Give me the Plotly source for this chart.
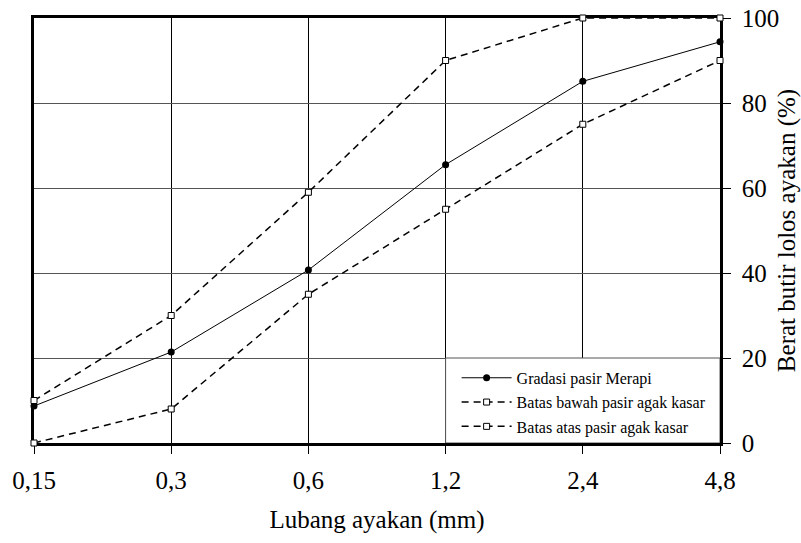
import plotly.graph_objects as go

sieve = ["0,15", "0,3", "0,6", "1,2", "2,4", "4,8"]
gradasi = [8.7, 21.4, 40.7, 65.5, 85.1, 94.4]
batas_bawah = [0, 8, 35, 55, 75, 90]
batas_atas = [10, 30, 59, 90, 100, 100]
y_ticks = [0, 20, 40, 60, 80, 100]

FONT = "'Liberation Serif', 'Times New Roman', Times, serif"

fig = go.Figure()
fig.add_trace(go.Scatter(
    x=sieve, y=gradasi, name="Gradasi pasir Merapi", mode="lines+markers",
    line=dict(color="black", width=1),
    marker=dict(symbol="circle", size=7, color="black"),
    legendgroup="a", cliponaxis=False))
fig.add_trace(go.Scatter(
    x=sieve, y=batas_bawah, name="Batas bawah pasir agak kasar", mode="lines+markers",
    line=dict(color="black", width=1.5, dash="7px,5px"),
    marker=dict(symbol="square", size=6, color="white", line=dict(color="black", width=1)),
    legendgroup="b", cliponaxis=False))
fig.add_trace(go.Scatter(
    x=sieve, y=batas_atas, name="Batas atas pasir agak kasar", mode="lines+markers",
    line=dict(color="black", width=1.5, dash="7px,5px"),
    marker=dict(symbol="square", size=6, color="white", line=dict(color="black", width=1)),
    legendgroup="c", cliponaxis=False))

# legend frame (white box with thin grey border, bottom-right of plot)
fig.add_shape(type="rect", xref="x", yref="y", x0=3, x1=5, y0=0, y1=20,
              fillcolor="white", line=dict(color="#555", width=1), layer="above")

fig.update_layout(
    width=801, height=543,
    margin=dict(l=34, r=81, t=18, b=100, autoexpand=False),
    paper_bgcolor="white", plot_bgcolor="white",
    font=dict(family=FONT, color="black"),
    showlegend=True,
    legend=dict(
        x=(462 - 34 - 6) / 685, xanchor="left", y=-0.002, yanchor="bottom",
        bgcolor="rgba(0,0,0,0)", borderwidth=0,
        font=dict(family=FONT, size=16, color="black"),
        tracegroupgap=0.5, traceorder="grouped", itemwidth=50,
    ),
    xaxis=dict(
        type="category", range=[0, 5], automargin=False,
        showline=True, linecolor="black", linewidth=2.5, mirror=True,
        showgrid=True, gridcolor="black", gridwidth=1,
        ticks="outside", ticklen=8, tickcolor="black", tickwidth=1,
        ticklabelstandoff=5,
        tickfont=dict(family=FONT, size=25),
        title=dict(text="Lubang ayakan (mm)", font=dict(family=FONT, size=25), standoff=18),
        layer="below traces", zeroline=False,
    ),
    yaxis=dict(
        side="right", range=[0, 100], tickvals=y_ticks, automargin=False,
        showline=True, linecolor="black", linewidth=2.5, mirror=True,
        showgrid=True, gridcolor="#555", gridwidth=1,
        ticks="outside", ticklen=8, tickcolor="black", tickwidth=1,
        ticklabelstandoff=6,
        tickfont=dict(family=FONT, size=25),
        title=dict(text="Berat butir lolos ayakan (%)", font=dict(family=FONT, size=25), standoff=2),
        layer="below traces", zeroline=False,
    ),
)

fig.write_html("out.html")
